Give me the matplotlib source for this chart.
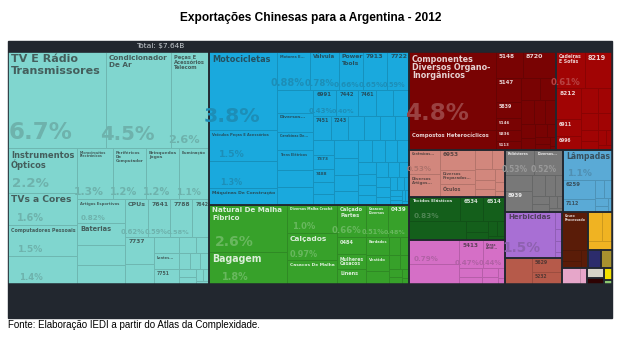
import matplotlib
matplotlib.use("Agg")
import matplotlib.pyplot as plt
from matplotlib.patches import Rectangle
from matplotlib.colors import to_rgb

# shares of China's exports to Argentina, 2012 (% of total)
teal_labels = ["TV E Rádio\nTransmissores", "Condicionador\nDe Ar", "Peças E\nAcessórios\nTelecom",
               "Instrumentos\nÓpticos", "TVs a Cores", "Computadores Pessoais",
               "Peças E Acessórios Para Computadores",
               "Microcircuitos\nElectrónicos", "Periféricos\nDe\nComputador", "Brinquedos\nJogos", "Iluminação",
               "Artigos Esportivos", "Baterias", "Diversos Ponto Plástico", "Em Vidro E Envasadores...",
               "CPUs", "7641", "7788", "7642", "7737", "Diversos\nTip Aparelhos", "Pessoas...", "Lentes...", "7751"]
teal_values = [6.7, 4.5, 2.6, 2.2, 1.6, 1.5, 1.4, 1.3, 1.2, 1.2, 1.1,
               0.82, 0.75, 0.70, 0.64, 0.62, 0.59, 0.58, 0.45, 0.55, 0.42, 0.30, 0.28, 0.27]
teal_shares = ["6.7%", "4.5%", "2.6%", "2.2%", "1.6%", "1.5%", "1.4%", "1.3%", "1.2%", "1.2%", "1.1%",
               "0.82%", "", "", "", "0.62%", "0.59%", "0.58%", "", "", "", "", "", ""]
teal_small = [0.2, 0.15, 0.13, 0.12, 0.1, 0.09, 0.08, 0.06, 0.05, 0.03]

blue_labels = ["Motocicletas", "Veículos Peças E Acessórios", "Dispositivos De Aquecimento Elé...",
               "Máquinas De Construção", "Motores E...", "Válvula", "Power\nTools", "7913", "7722",
               "Máquinas Para Os\nTratamento...", "Diversos...", "Carabinas De...", "Trens Elétricos",
               "Geradores De Ar E...", "Diversas Máquinas\nPara Elétricas",
               "6991", "7442", "7461", "", "Outros...", "7451", "7243", "", "", "", "",
               "Pesos...", "7373", "7488", "", ""]
blue_values = [3.8, 1.5, 1.3, 0.82, 0.88, 0.78, 0.66, 0.65, 0.59,
               0.60, 0.48, 0.49, 0.51, 0.44, 0.46,
               0.43, 0.40, 0.33, 0.32, 0.30, 0.30, 0.30, 0.28, 0.27, 0.26, 0.25,
               0.22, 0.22, 0.20, 0.18, 0.16]
blue_shares = ["3.8%", "1.5%", "1.3%", "", "0.88%", "0.78%", "0.66%", "0.65%", "0.59%",
               "", "", "", "", "", "", "0.43%", "0.40%"] + [""] * 14
blue_small = [0.3, 0.28, 0.26, 0.24, 0.22, 0.2, 0.19, 0.18, 0.16, 0.15, 0.14, 0.13, 0.12, 0.12,
              0.11, 0.1, 0.09, 0.08, 0.07, 0.06, 0.05, 0.05, 0.04, 0.04, 0.03, 0.03, 0.02]

green_labels = ["Natural De Malha\nFíbrico", "Bagagem", "Diversos Malha Crochê", "Calçados",
                "Casacos De Malha", "Calçado\nPartes", "Casacos\nDiversos", "0439", "0484",
                "Mulheres\nCasacos", "Linens", "Bordados", "Vestido", "Calças..."]
green_values = [2.6, 1.8, 1.0, 0.97, 0.85, 0.66, 0.51, 0.48, 0.35, 0.30, 0.32, 0.30, 0.25, 0.22]
green_shares = ["2.6%", "1.8%", "1.0%", "0.97%", "", "0.66%", "0.51%", "0.48%", "", "", "", "", "", ""]
green_small = [0.14, 0.12, 0.1, 0.09, 0.08, 0.06, 0.05, 0.03]

dred_labels = ["Componentes\nDiversos Organo-\nInorgânicos", "Compostos Heterocíclicos",
               "5148", "8720", "5147", "5839", "5146", "5836", "5113"]
dred_values = [4.8, 1.25, 0.5, 0.62, 0.42, 0.30, 0.20, 0.20, 0.16]
dred_shares = ["4.8%", "", "", "", "", "", "", "", ""]
dred_small = [0.3, 0.26, 0.22, 0.2, 0.18, 0.15, 0.13, 0.11, 0.09, 0.07, 0.06, 0.04, 0.02]

bred_labels = ["Cadeiras\nE Sofás", "8219", "8212", "6911", "6996"]
bred_values = [0.75, 0.70, 0.55, 0.30, 0.25]
bred_shares = ["0.61%", "", "", "", ""]
bred_small = [0.3, 0.25, 0.2, 0.16, 0.13, 0.11, 0.09, 0.06, 0.05]

salmon_labels = ["Cerâmicas...", "Diversos\nArtigos...", "6953", "Diversos\nPreparados...", "Óculos"]
salmon_values = [0.53, 0.50, 0.50, 0.38, 0.32]
salmon_shares = ["0.53%", "", "", "", ""]
salmon_small = [0.22, 0.18, 0.15, 0.13, 0.11, 0.09, 0.07, 0.04]

dgreen_labels = ["Tecidos Elásticos", "6534", "6514", "Tecidos De Algodão Acab..."]
dgreen_values = [0.9, 0.4, 0.38, 0.75]
dgreen_shares = ["0.83%", "", "", ""]
dgreen_small = [0.16, 0.13, 0.1, 0.08, 0.05]

pink_labels = ["Artigos De Vestuário...", "Diversos Artigos De Plástico", "5413", "Ceras\nArtif..."]
pink_values = [0.85, 0.72, 0.47, 0.44]
pink_shares = ["0.79%", "", "0.47%", "0.44%"]
pink_small = [0.15, 0.12, 0.1, 0.08, 0.05, 0.03]

gray_labels = ["Poliésteres", "Diversos...", "Os Artigos...", "8939"]
gray_values = [0.53, 0.52, 0.30, 0.42]
gray_shares = ["0.53%", "0.52%", "", ""]
gray_small = [0.18, 0.15, 0.12, 0.1, 0.09, 0.07, 0.05, 0.04]

lblue_labels = ["Lâmpadas", "6259", "7112"]
lblue_values = [1.05, 0.42, 0.30]
lblue_shares = ["1.1%", "", ""]
lblue_small = [0.12, 0.1, 0.08, 0.06, 0.04]

purple_labels = ["Herbicidas"]
purple_values = [1.65]
purple_shares = ["1.5%"]
purple_small = [0.08, 0.06, 0.05, 0.03]

fert_labels = ["Fertilizantes\nFosfatados", "5629", "5232"]
fert_values = [0.5, 0.3, 0.26]

dbrown_labels = ["Couro\nProcessado"]
dbrown_values = [0.7]
dbrown_small = [0.15, 0.1, 0.09]

yellow_small = [0.3, 0.2, 0.15]
lpink_small = [0.2, 0.09]
navy_values = [0.17]
olive_values = [0.14]
beige_values = [0.12]
maroon_values = [0.07]
byellow_values = [0.07]
lgreen_values = [0.02]

PANEL = "#22272f"


def row(*kids):
    return ("row", kids)


def col(*kids):
    return ("col", kids)


def sector(color, dark_text, labels, values, shares=None, small=None, tree=0):
    return {"color": color, "dark": dark_text, "labels": labels, "values": values,
            "shares": shares or [""] * len(values), "small": small or [], "tree": tree}


SECTORS = {
    "teal": sector("#80d6cf", True, teal_labels, teal_values, teal_shares, teal_small,
                   col(row(0, 1, 2), row(col(3, 4, 5, 6), col(row(7, 8, 9, 10), row(
                       col(11, 12, 13, 14), col(row(15, 16, 17, 18),
                                                row(col(19, 20), col(21, 22, 23), "small"))))))),
    "blue": sector("#1aa9dd", True, blue_labels, blue_values, blue_shares, blue_small,
                   row(col(0, 1, 2, 3), col(row(4, 5, 6, 7, 8), row(
                       col(9, 10, 11, 12, 13, 14),
                       col(row(15, 16, 17, 18, 19), row(20, 21, 22, 23, 24, 25),
                           row(col(26, 27, 28, 29, 30), "small")))))),
    "green": sector("#37a12a", False, green_labels, green_values, green_shares, green_small,
                    row(col(0, 1), col(2, 3, 4), col(row(5, 6, 7),
                                                     row(col(8, 9, 10), col(11, 12, 13), "small")))),
    "dred": sector("#790303", False, dred_labels, dred_values, dred_shares, dred_small,
                   row(col(0, 1), col(row(2, 3), row(col(4, 5, 6, 7, 8), "small")))),
    "bred": sector("#a10404", False, bred_labels, bred_values, bred_shares, bred_small,
                   col(row(0, 1), row(col(2, 3, 4), "small"))),
    "salmon": sector("#d2877d", True, salmon_labels, salmon_values, salmon_shares, salmon_small,
                     row(col(0, 1), col(2, 3, 4), "small")),
    "dgreen": sector("#145f1b", False, dgreen_labels, dgreen_values, dgreen_shares, dgreen_small,
                     col(row(0, 1, 2), row(3, "small"))),
    "pink": sector("#d56fc6", True, pink_labels, pink_values, pink_shares, pink_small,
                   row(col(0, 1), col(row(2, 3), "small"))),
    "gray": sector("#787878", False, gray_labels, gray_values, gray_shares, gray_small,
                   col(row(0, 1), row(col(2, 3), "small"))),
    "lblue": sector("#5aaad6", True, lblue_labels, lblue_values, lblue_shares, lblue_small,
                    col(0, row(col(1, 2), "small"))),
    "purple": sector("#a86fd4", True, purple_labels, purple_values, purple_shares, purple_small,
                     row(0, "small")),
    "fert": sector("#b65a4a", True, fert_labels, fert_values, tree=row(0, col(1, 2))),
    "dbrown": sector("#5a1c08", False, dbrown_labels, dbrown_values, small=dbrown_small,
                     tree=col(0, "small")),
    "yellow": sector("#f0b322", True, [], [], small=yellow_small, tree="small"),
    "navy": sector("#2c2c6c", False, [""], navy_values),
    "olive": sector("#a8922e", True, [""], olive_values),
    "lpink": sector("#e6a6c9", True, [], [], small=lpink_small, tree="small"),
    "beige": sector("#d6d3c8", True, [""], beige_values),
    "maroon": sector("#2e0202", False, [""], maroon_values),
    "byellow": sector("#f3e000", True, [""], byellow_values),
    "lgreen": sector("#8cc870", True, [""], lgreen_values),
}

TOP = row("teal", col("blue", "green"),
          col(row("dred", "bred"),
              row(col("salmon", "dgreen", "pink"),
                  col(row("gray", "lblue"),
                      row(col("purple", "fert"),
                          col(row("dbrown", col("yellow", row("navy", "olive"))),
                              row("lpink", col("beige", "maroon"), col("byellow", "lgreen"))))))))


def mix(c1, c2, t):
    a, b = to_rgb(c1), to_rgb(c2)
    return tuple(a[i] * (1 - t) + b[i] * t for i in range(3))


def squarify(vals, x, y, w, h, ratio=1.618):
    vals = sorted(vals, reverse=True)
    out, i0, n, value = [], 0, len(vals), sum(vals)
    while i0 < n:
        s = mn = mx = vals[i0]
        i1 = i0 + 1
        alpha = max(h / w, w / h) / (value * ratio)
        beta = s * s * alpha
        best = max(mx / beta, beta / mn)
        while i1 < n:
            v = vals[i1]
            beta = (s + v) ** 2 * alpha
            r = max(max(mx, v) / beta, beta / min(mn, v))
            if r > best:
                break
            s, mn, mx, best = s + v, min(mn, v), max(mx, v), r
            i1 += 1
        if w < h:
            rh = h * s / value
            xx = x
            for v in vals[i0:i1]:
                out.append((xx, y, w * v / s, rh))
                xx += w * v / s
            y, h = y + rh, h - rh
        else:
            rw = w * s / value
            yy = y
            for v in vals[i0:i1]:
                out.append((x, yy, rw, h * v / s))
                yy += h * v / s
            x, w = x + rw, w - rw
        value -= s
        i0 = i1
    return out


def value_in(node, sec):
    if isinstance(node, int):
        return SECTORS[sec]["values"][node]
    if node == "small":
        return sum(SECTORS[sec]["small"])
    return sum(value_in(k, sec) for k in node[1])


def value_top(node):
    if isinstance(node, str):
        return value_in(SECTORS[node]["tree"], node)
    return sum(value_top(k) for k in node[1])


def split(node, vals, x, y, w, h):
    tot = sum(vals)
    rects = []
    for v in vals:
        if node[0] == "row":
            rects.append((x, y, w * v / tot, h))
            x += w * v / tot
        else:
            rects.append((x, y, w, h * v / tot))
            y += h * v / tot
    return rects


def place(node, sec, x, y, w, h, cells):
    if isinstance(node, int):
        cells.append((sec, node, x, y, w, h))
    elif node == "small":
        for r in squarify(SECTORS[sec]["small"], x, y, w, h):
            cells.append((sec, None) + r)
    else:
        vals = [value_in(k, sec) for k in node[1]]
        for k, r in zip(node[1], split(node, vals, x, y, w, h)):
            place(k, sec, *r, cells)


def place_top(node, x, y, w, h, cells, boxes):
    if isinstance(node, str):
        boxes[node] = (x, y, w, h)
        place(SECTORS[node]["tree"], node, x, y, w, h, cells)
    else:
        vals = [value_top(k) for k in node[1]]
        for k, r in zip(node[1], split(node, vals, x, y, w, h)):
            place_top(k, *r, cells, boxes)


W, H = 604, 232
fig = plt.figure(figsize=(6.22, 3.45), dpi=100)
fig.add_artist(Rectangle((8 / 622, 1 - 318 / 345), 604 / 622, 277 / 345,
                         transform=fig.transFigure, color=PANEL, zorder=0))
fig.text(0.5, 1 - 18 / 345, "Exportações Chinesas para a Argentina - 2012", ha="center", va="center",
         fontsize=8.6, fontweight="bold", family="Liberation Sans")
fig.text(8 / 622, 1 - 325 / 345, "Fonte: Elaboração IEDI a partir do Atlas da Complexidade.",
         ha="left", va="center", fontsize=7, family="Liberation Sans")
fig.text(160 / 622, 1 - 46 / 345, "Total: $7.64B", ha="center", va="center", fontsize=5.3,
         color="#c8cdd2")

ax = fig.add_axes([8 / 622, 1 - 284 / 345, W / 622, H / 345])
ax.set_xlim(0, W)
ax.set_ylim(H, 0)
ax.axis("off")

cells, boxes = [], {}
place_top(TOP, 0, 0, W, H, cells, boxes)

for sec, k, x, y, w, h in cells:
    c = SECTORS[sec]["color"]
    ax.add_patch(Rectangle((x, y), w, h, facecolor=c, edgecolor=mix(c, "black", 0.15), lw=0.6))

clips = {}
for sec, (x, y, w, h) in boxes.items():
    clips[sec] = Rectangle((x, y), w, h, fill=False, edgecolor=PANEL, lw=1.1, zorder=3)
    ax.add_patch(clips[sec])

PX = 100 / 72
for sec, k, x, y, w, h in cells:
    if k is None:
        continue
    info = SECTORS[sec]
    c = info["color"]
    tc = mix(c, "#2a2a2a", 0.7) if info["dark"] else mix(c, "white", 0.82)
    name = info["labels"][k] if k < len(info["labels"]) else ""
    if name and w > 9 and h > 6:
        lines = name.split("\n")
        n = max(len(s) for s in lines)
        fs = min(0.16 * (w * h) ** 0.5 + 1.5, (w - 5) / (0.64 * n), 15)
        if fs >= 3.2:
            for i, line in enumerate(lines):
                t = ax.text(x + 3, y + 2.5 + i * fs * 1.02, line, ha="left", va="top",
                            fontsize=fs / PX, fontweight="bold", color=tc, zorder=4)
                t.set_clip_path(clips[sec])
    share = info["shares"][k]
    if share:
        fs = min(0.3 * h, 0.3 * w, 23)
        ax.text(x + 0.33 * w, y + h - 0.42 * fs, share, ha="center", va="baseline",
                fontsize=fs / PX, fontweight="bold", color=mix(c, tc, 0.3), zorder=5,
                clip_on=False)

fig.savefig("out.png", dpi=100)
